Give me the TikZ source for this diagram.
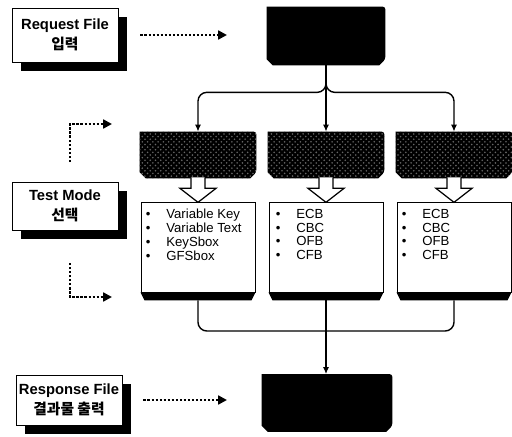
\documentclass[tikz,border=0pt]{standalone}
\usepackage{fontspec}
\setmainfont{Liberation Sans}
\newfontfamily\krfont{Noto Sans CJK KR}
\usetikzlibrary{arrows.meta, shadows, patterns}
\tikzset{
  label box/.style={
    draw=black,
    line width=0.5pt,
    fill=white,
    minimum width=2.12cm,
    align=center,
    inner sep=1pt,
    font=\fontsize{8.4}{11}\selectfont\bfseries,
    drop shadow={shadow xshift=0.18cm, shadow yshift=-0.18cm, fill=black, opacity=1}
  },
  dot arrow/.style={
    densely dotted,
    line width=1.3pt,
    -{Triangle[length=5pt, width=5pt]}
  },
  link/.style={
    line width=0.8pt,
    rounded corners=5pt,
    -{Latex[length=4pt, width=3.5pt]}
  },
  plain link/.style={
    line width=0.8pt,
    rounded corners=5pt
  },
  black box/.style={
    rectangle,
    inner sep=0pt
  },
  mode fill/.style={
    fill=black,
    postaction={pattern=crosshatch dots, pattern color=white!40!black}
  },
  list box/.style={
    draw=black,
    line width=0.5pt,
    fill=white,
    minimum width=2.28cm,
    minimum height=1.8cm
  },
  list text/.style={
    anchor=north west,
    align=left,
    inner sep=0pt,
    font=\fontsize{7.5}{7.9}\selectfont
  },
  fat arrow/.pic={
    \draw[line width=0.7pt, fill=white]
      (-7,-1) -- (-7,10) -- (-18,10) -- (0,24) -- (18,10) -- (7,10) -- (7,-1);
  }
}
\newcommand{\itm}{\textbullet\hspace{9pt}}
% chamfered black body of a named node
\newcommand{\chamfill}[2]{%
  \fill[#2, rounded corners=1.5pt] (#1.north west) -- (#1.north east)
    -- ([shift={(0,-6)}]#1.south east) [sharp corners] -- ([shift={(-6,0)}]#1.south east)
    -- ([shift={(6,0)}]#1.south west) -- ([shift={(0,-6)}]#1.south west) -- cycle;}

\begin{document}
\begin{tikzpicture}[x=0.02cm, y=-0.02cm]
    \useasboundingbox (0,0) rectangle (512,437);

    % left side labels
    \node[label box, minimum height=1.08cm] (req) at (65,35) {Request File\\{\krfont 입력}};
    \node[label box, minimum height=0.96cm] (test) at (65,206) {Test Mode\\{\krfont 선택}};
    \node[label box, minimum height=1.0cm] (resp) at (69,400) {Response File\\{\krfont 결과물 출력}};

    % input and output blocks
    \node[black box, minimum width=2.36cm, minimum height=1.16cm] (src) at (326,36) {};
    \node[black box, minimum width=2.6cm, minimum height=1.14cm] (out) at (327,403) {};
    \chamfill{src}{black}
    \chamfill{out}{black}

    % three test modes
    \foreach \n/\x in {m1/198, m2/326, m3/454} {
      \node[black box, minimum width=2.32cm, minimum height=0.92cm] (\n) at (\x,155) {};
      \chamfill{\n}{mode fill}
    }

    \node[list box] (l1) at (198,247) {};
    \node[list box] (l2) at (326,247) {};
    \node[list box] (l3) at (454,247) {};
    \foreach \n in {l1,l2,l3} {
      \fill (\n.south west) -- (\n.south east) -- ([shift={(-4,8)}]\n.south east)
        -- ([shift={(4,8)}]\n.south west) -- cycle;
      \pic at (\n.north |- m1.south) {fat arrow};
    }

    \node[list text] (t1) at ([shift={(5,7)}]l1.north west)
      {\itm Variable Key\\\itm Variable Text\\\itm KeySbox\\\itm GFSbox};
    \node[list text] (t2) at ([shift={(7,7)}]l2.north west)
      {\itm ECB\\\itm CBC\\\itm OFB\\\itm CFB};
    \node[list text] (t3) at ([shift={(5,7)}]l3.north west)
      {\itm ECB\\\itm CBC\\\itm OFB\\\itm CFB};

    % branching connectors
    \draw[link] (src.south) -- ++(0,27) -| (m1.north);
    \draw[link] (src.south) -- ++(0,27) -| (m3.north);
    \draw[link] (src.south) -- (m2.north);

    \coordinate (join) at (326,331);
    \draw[plain link] ([yshift=-0.16cm]l1.south) |- (join);
    \draw[plain link] ([yshift=-0.16cm]l3.south) |- (join);
    \draw[plain link] ([yshift=-0.16cm]l2.south) -- (join);
    \draw[link] (join) -- (join |- out.north);

    % dotted pointers
    \coordinate (req tip) at (227,35);
    \coordinate (resp tip) at (227,400);
    \draw[dot arrow] ([xshift=0.44cm]req.east) -- (req tip);
    \draw[dot arrow] ([xshift=0.42cm]resp.east) -- (resp tip);

    \coordinate (up start) at (70,162);
    \coordinate (up tip) at (112,124);
    \coordinate (down start) at (70,263);
    \coordinate (down tip) at (112,297);
    \draw[dot arrow] (up start) |- (up tip);
    \draw[dot arrow] (down start) |- (down tip);

\end{tikzpicture}
\end{document}
